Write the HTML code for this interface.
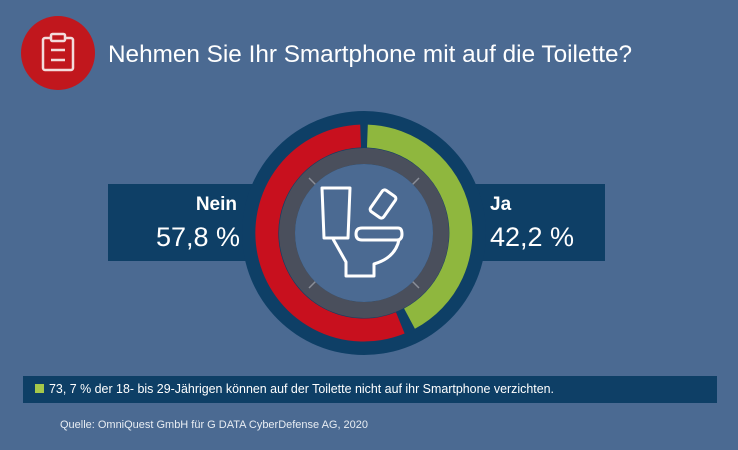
<!DOCTYPE html>
<html><head><meta charset="utf-8"><style>
body{margin:0;width:738px;height:450px;background:#4b6a92;overflow:hidden;font-family:"Liberation Sans",sans-serif;}
svg{position:absolute;left:0;top:0}
</style></head><body>
<svg width="738" height="450" viewBox="0 0 738 450">
<rect width="738" height="450" fill="#4b6a92"/>
<circle cx="58" cy="53" r="37" fill="#c1171d"/>
<rect x="43" y="38" width="30" height="32" rx="2" fill="none" stroke="#f3dcdc" stroke-width="2.5"/>
<rect x="51" y="34" width="14" height="7" rx="1.5" fill="#c1171d" stroke="#f3dcdc" stroke-width="2.5"/>
<line x1="51" y1="50" x2="65" y2="50" stroke="#f3dcdc" stroke-width="2.5"/>
<line x1="51" y1="60" x2="65" y2="60" stroke="#f3dcdc" stroke-width="2.5"/>
<text x="108" y="62" fill="#ffffff" font-size="24" textLength="524" lengthAdjust="spacingAndGlyphs">Nehmen Sie Ihr Smartphone mit auf die Toilette?</text>
<rect x="108" y="184" width="160" height="77" fill="#0e3f66"/>
<rect x="460" y="184" width="145" height="77" fill="#0e3f66"/>
<circle cx="364" cy="233" r="122" fill="#0e3f66"/>
<g fill="none" stroke-width="23">
<path d="M 367.4 136.06 A 97 97 0 0 1 409.5 318.6" stroke="#8fb73e"/>
<path d="M 400.3 322.9 A 97 97 0 1 1 360.6 136.06" stroke="#c8101e"/>
</g>
<circle cx="364" cy="233" r="77" fill="none" stroke="#4a4f5c" stroke-width="16"/>
<g stroke="#8a8f99" stroke-width="1.5">
<line x1="309" y1="178" x2="319" y2="188"/><line x1="419" y1="178" x2="409" y2="188"/>
<line x1="309" y1="288" x2="319" y2="278"/><line x1="419" y1="288" x2="409" y2="278"/>
</g>
<circle cx="364" cy="233" r="69" fill="#4b6a92"/>
<g fill="none" stroke="#ffffff" stroke-width="3" stroke-linejoin="round">
<path d="M322 188 H350 L348 238 H324 Z"/>
<path d="M362 228 H398 Q402 228 402 234 Q402 240 397 240 H362 Q356 240 356 234 Q356 228 362 228 Z"/>
<path d="M333 239 L346 262 V276 H374 V264 Q395 258 399 240"/>
<rect x="375" y="191" width="16" height="26" rx="3" transform="rotate(35 383 204)"/>
</g>
<text x="237" y="210" fill="#fff" font-size="19" font-weight="bold" text-anchor="end">Nein</text>
<text x="240" y="246" fill="#fff" font-size="27" text-anchor="end">57,8 %</text>
<text x="490" y="210" fill="#fff" font-size="19" font-weight="bold">Ja</text>
<text x="490" y="246" fill="#fff" font-size="27">42,2 %</text>
<rect x="23" y="376" width="694" height="27" fill="#0e3f66"/>
<rect x="35" y="384" width="9" height="9" fill="#a6c84a"/>
<text x="49" y="393" fill="#fff" font-size="13" textLength="505" lengthAdjust="spacingAndGlyphs">73, 7 % der 18- bis 29-Jährigen können auf der Toilette nicht auf ihr Smartphone verzichten.</text>
<text x="60" y="428" fill="#e8edf3" font-size="11" textLength="308" lengthAdjust="spacingAndGlyphs">Quelle: OmniQuest GmbH für G DATA CyberDefense AG, 2020</text>
</svg>
</body></html>
